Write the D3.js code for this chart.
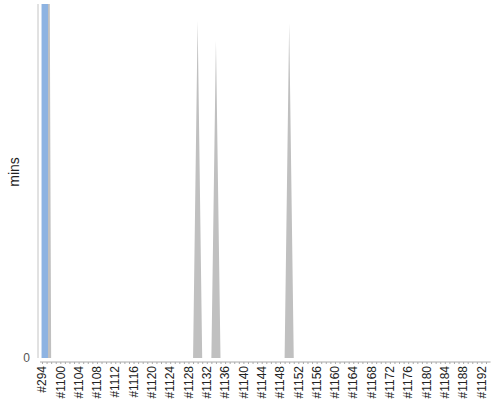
<!DOCTYPE html>
<html>
<head>
<meta charset="utf-8">
<script src="https://cdn.jsdelivr.net/npm/d3@7"></script>
<style>
  body { margin: 0; background: #fff; }
  svg { display: block; font-family: "Liberation Sans", Arial, sans-serif; }
</style>
</head>
<body>
<svg id="chart" width="500" height="400"></svg>
<script>
// build numbers along the x axis
const builds = ['#294',
  '#1097', '#1098', '#1099', '#1100', '#1101', '#1102', '#1103', '#1104', '#1105', '#1106',
  '#1107', '#1108', '#1109', '#1110', '#1111', '#1112', '#1113', '#1114', '#1115', '#1116',
  '#1117', '#1118', '#1119', '#1120', '#1121', '#1122', '#1123', '#1124', '#1125', '#1126',
  '#1127', '#1128', '#1129', '#1130', '#1131', '#1132', '#1133', '#1134', '#1135', '#1136',
  '#1137', '#1138', '#1139', '#1140', '#1141', '#1142', '#1143', '#1144', '#1145', '#1146',
  '#1147', '#1148', '#1149', '#1150', '#1151', '#1152', '#1153', '#1154', '#1155', '#1156',
  '#1157', '#1158', '#1159', '#1160', '#1161', '#1162', '#1163', '#1164', '#1165', '#1166',
  '#1167', '#1168', '#1169', '#1170', '#1171', '#1172', '#1173', '#1174', '#1175', '#1176',
  '#1177', '#1178', '#1179', '#1180', '#1181', '#1182', '#1183', '#1184', '#1185', '#1186',
  '#1187', '#1188', '#1189', '#1190', '#1191', '#1192', '#1193'];

// grey series (only non-zero builds listed)
const waitBuilds = ['#294', '#1097', '#1130', '#1134', '#1150'];
const waitMins = [200, 200, 57.2, 53.8, 56.8];

// blue series
const runBuilds = ['#294'];
const runMins = [200];

const yTicks = [0];
const yMax = 60;

const margin = { top: 4, left: 42, right: 14, bottom: 42 };
const width = 500;
const height = 400;
const plotBottom = height - margin.bottom;

const svg = d3.select('#chart');

const x = d3.scalePoint()
    .domain(builds)
    .range([margin.left, width - margin.right]);
const step = x.step();

const y = d3.scaleLinear()
    .domain([0, yMax])
    .range([plotBottom, margin.top]);

svg.append('clipPath').attr('id', 'plot')
  .append('rect')
    .attr('x', 0).attr('y', margin.top)
    .attr('width', width).attr('height', plotBottom - margin.top);

const waitLookup = new Map(waitBuilds.map((b, i) => [b, waitMins[i]]));
const waitSeries = builds.map(b => ({ build: b, mins: waitLookup.get(b) || 0 }));

const plot = svg.append('g').attr('clip-path', 'url(#plot)');

const area = d3.area()
    .x(d => x(d.build))
    .y0(y(0))
    .y1(d => y(d.mins));

plot.append('path')
    .datum(waitSeries)
    .attr('fill', '#c0c0c0')
    .attr('d', area);

plot.selectAll('rect.run')
    .data(runBuilds.map((b, i) => ({ build: b, mins: runMins[i] })))
    .enter().append('rect')
    .attr('class', 'run')
    .attr('x', d => x(d.build) - step * 0.1)
    .attr('width', step * 1.4)
    .attr('y', d => y(d.mins))
    .attr('height', d => y(0) - y(d.mins))
    .attr('fill', '#8db3e2');

// y axis
const yAxis = svg.append('g')
    .attr('transform', `translate(${margin.left - 4},0)`)
    .call(d3.axisLeft(y).tickValues(yTicks).tickSize(0).tickPadding(8));
yAxis.select('.domain').attr('stroke', '#c4c4c4').attr('d', `M0,${margin.top}V${plotBottom}`);
yAxis.selectAll('text')
    .attr('fill', '#555')
    .style('font-size', '12px');

// x axis
const xAxis = svg.append('g')
    .attr('transform', `translate(0,${plotBottom + 4})`)
    .call(d3.axisBottom(x).tickSize(2).tickFormat(''));
xAxis.select('.domain').attr('stroke', '#aaa')
    .attr('d', `M${margin.left - 2},0H${width - margin.right + step}`);
xAxis.selectAll('.tick line').attr('stroke', '#aaa');

svg.append('g')
    .selectAll('text')
    .data(builds.filter((b, i) => i % 4 === 0))
    .enter().append('text')
    .attr('transform', d => `translate(${x(d)},${plotBottom + 8}) rotate(-90)`)
    .attr('text-anchor', 'end')
    .attr('dy', '0.35em')
    .style('font-size', '12px')
    .attr('fill', '#222')
    .text(d => d);

svg.append('text')
    .attr('transform', `translate(14,${(margin.top + plotBottom) / 2 - 9}) rotate(-90)`)
    .attr('text-anchor', 'middle')
    .attr('dy', '0.35em')
    .style('font-size', '14px')
    .attr('fill', '#222')
    .text('mins');
</script>
</body>
</html>
